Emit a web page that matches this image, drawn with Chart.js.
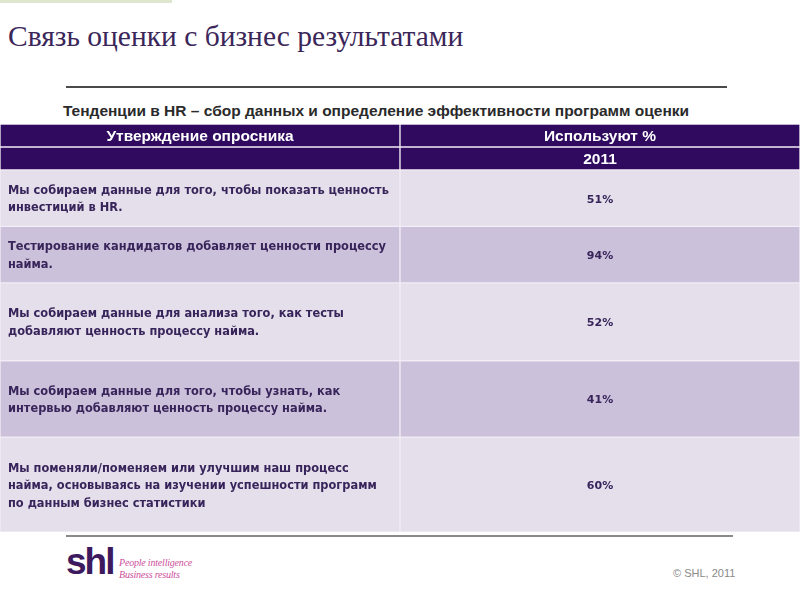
<!DOCTYPE html>
<html>
<head>
<meta charset="utf-8">
<script src="https://cdn.jsdelivr.net/npm/chart.js@4"></script>
<style>
  body { margin: 0; width: 800px; height: 600px; background: #fff; position: relative; overflow: hidden; }
  .abs { position: absolute; }
  #topbar { left: 0; top: 0; width: 172px; height: 3px; background: #dfe6cf; }
  #title { left: 8px; top: 20px; font: 29.5px "Liberation Serif", serif; color: #3b2659; white-space: nowrap; }
  #rule1 { left: 66px; top: 86px; width: 661px; height: 2px; background: #4a4a4a; }
  #subtitle { left: 0; width: 752px; top: 102px; text-align: center; font: bold 15.5px "Liberation Sans", Arial, sans-serif; color: #2a2a2a; white-space: nowrap; }
  #wrap { left: 0; top: 124px; width: 800px; height: 408px; }
  #rule2 { left: 66px; top: 535px; width: 667px; height: 2px; background: #8a8a8a; }
  #logo { left: 66px; top: 541px; font: bold 37px "Liberation Sans", Arial, sans-serif; color: #3d1a5e; letter-spacing: -2px; }
  #tag { left: 119px; top: 557px; font: italic 10px "Liberation Serif", serif; color: #cc4f9c; line-height: 12px; letter-spacing: -0.2px; }
  #copy { left: 673px; top: 567px; font: 11px "Liberation Sans", Arial, sans-serif; color: #8a8a8a; }
</style>
</head>
<body>
<div id="topbar" class="abs"></div>
<div id="title" class="abs">Связь оценки с бизнес результатами</div>
<div id="rule1" class="abs"></div>
<div id="subtitle" class="abs">Тенденции в HR – сбор данных и определение эффективности программ оценки</div>
<div id="wrap" class="abs"><canvas id="myChart"></canvas></div>
<div id="rule2" class="abs"></div>
<div id="logo" class="abs">shl</div>
<div id="tag" class="abs">People intelligence<br>Business results</div>
<div id="copy" class="abs">© SHL, 2011</div>
<script>
// table content
const columns = ['Утверждение опросника', 'Используют %'];
const yearRow = ['', '2011'];
const statements = [
  ['Мы собираем данные для того, чтобы показать ценность', 'инвестиций в HR.'],
  ['Тестирование кандидатов добавляет ценности процессу', 'найма.'],
  ['Мы собираем данные для анализа того, как тесты', 'добавляют ценность процессу найма.'],
  ['Мы собираем данные для того, чтобы узнать, как', 'интервью добавляют ценность процессу найма.'],
  ['Мы поменяли/поменяем или улучшим наш процесс', 'найма, основываясь на изучении успешности программ', 'по данным бизнес статистики']
];
const usage = [51, 94, 52, 41, 60];

// layout (row heights in table units)
const headerH = 23;
const bodyH = [56.5, 56.5, 78, 76.5, 95];
const heights = [headerH, headerH].concat(bodyH);
const edges = [0];
heights.forEach(h => edges.push(edges[edges.length - 1] + h));

const headFill = '#2f0a5e';
const lightFill = '#e4dfea';
const darkFill = '#ccc1da';

const rowTexts = [columns.map(t => [t]), yearRow.map(t => t ? [t] : [])]
  .concat(statements.map((s, i) => [s, [usage[i] + '%']]));

const datasets = heights.map((h, r) => ({
  data: [[edges[r], edges[r + 1]], [edges[r], edges[r + 1]]],
  backgroundColor: r < 2 ? headFill : ((r - 2) % 2 === 0 ? lightFill : darkFill),
  borderColor: '#f3edf6',
  borderWidth: 1,
  borderSkipped: false,
  grouped: false,
  barPercentage: 1,
  categoryPercentage: 1
}));

const cellText = {
  id: 'cellText',
  afterDatasetsDraw(chart) {
    const c = chart.ctx;
    c.save();
    c.textBaseline = 'middle';
    chart.data.datasets.forEach((ds, r) => {
      const meta = chart.getDatasetMeta(r);
      meta.data.forEach((bar, col) => {
        const lines = rowTexts[r][col];
        if (!lines || !lines.length) return;
        const top = Math.min(bar.y, bar.base), bottom = Math.max(bar.y, bar.base);
        const cy = (top + bottom) / 2;
        const left = bar.x - bar.width / 2;
        if (r < 2) {
          c.font = 'bold 15.5px "Liberation Sans", Arial, sans-serif';
          c.fillStyle = '#ffffff';
          c.textAlign = 'center';
          c.fillText(lines[0], bar.x, cy + 1);
        } else if (col === 0) {
          c.font = 'bold 11.4px "DejaVu Sans", Verdana, sans-serif';
          c.fillStyle = '#37245a';
          c.textAlign = 'left';
          const lh = 17.5;
          lines.forEach((ln, k) => {
            c.fillText(ln, left + 8, cy + 1.5 + (k - (lines.length - 1) / 2) * lh);
          });
        } else {
          c.font = 'bold 11px "DejaVu Sans", Verdana, sans-serif';
          c.fillStyle = '#37245a';
          c.textAlign = 'center';
          c.fillText(lines[0], bar.x, cy + 1.5);
        }
      });
    });
    c.restore();
  }
};

const ctx = document.getElementById('myChart');
new Chart(ctx, {
  type: 'bar',
  data: { labels: columns, datasets: datasets },
  options: {
    responsive: true,
    maintainAspectRatio: false,
    animation: false,
    layout: { padding: 0 },
    plugins: { legend: { display: false }, tooltip: { enabled: false } },
    scales: {
      x: { display: false },
      y: { display: false, min: 0, max: edges[edges.length - 1], reverse: true }
    }
  },
  plugins: [cellText]
});
</script>
</body>
</html>
